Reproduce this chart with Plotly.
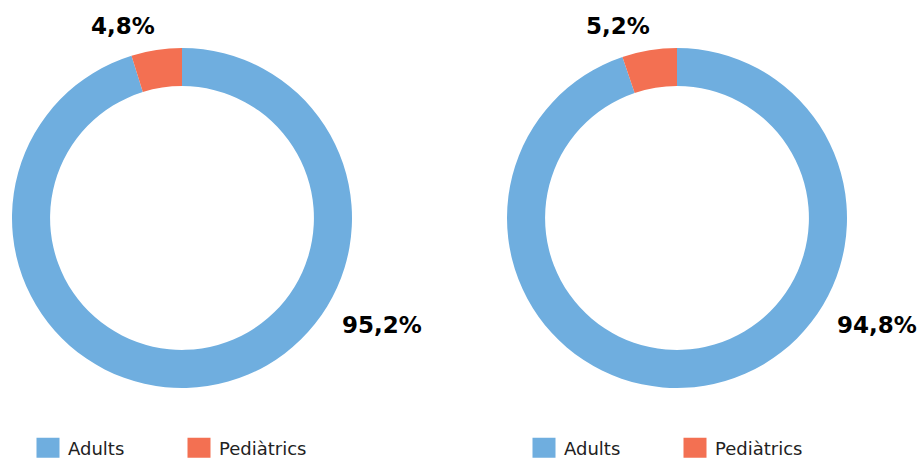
import plotly.graph_objects as go

labels = ["Adults", "Pediàtrics"]
values_left = [95.2, 4.8]
values_right = [94.8, 5.2]
colors = ["#6FAEDF", "#F37052"]

W, H = 919, 459

def fmt(v):
    return f"{v:.1f}".replace(".", ",") + "%"

def px_x(x):
    return x / W

def px_y(y):
    return 1 - y / H

fig = go.Figure()

domains = [
    dict(x=[px_x(12), px_x(352)], y=[px_y(388), px_y(48)]),
    dict(x=[px_x(507), px_x(847)], y=[px_y(388), px_y(48)]),
]

for i, (vals, dom) in enumerate(zip([values_left, values_right], domains)):
    fig.add_trace(go.Pie(
        labels=labels,
        values=vals,
        hole=0.776,
        sort=False,
        direction="clockwise",
        rotation=0,
        marker=dict(colors=colors, line=dict(width=0)),
        textinfo="none",
        hoverinfo="label+percent",
        domain=dom,
        legend="legend" if i == 0 else "legend2",
        legendgroup=f"pie{i}",
        showlegend=True,
    ))

# percentage labels
label_pos = [
    [(382, 324.5), (123, 26.5)],
    [(877, 324.5), (618, 26.5)],
]
for vals, poss in zip([values_left, values_right], label_pos):
    for v, (x, y) in zip(vals, poss):
        fig.add_annotation(
            x=px_x(x), y=px_y(y), xref="paper", yref="paper",
            text=f"<b>{fmt(v)}</b>", showarrow=False,
            xanchor="center", yanchor="middle",
            font=dict(family="DejaVu Sans", size=23, color="#000000"),
        )

legend_common = dict(
    orientation="h",
    xanchor="left",
    yanchor="middle",
    y=px_y(448),
    entrywidth=106,
    entrywidthmode="pixels",
    font=dict(family="DejaVu Sans", size=18, color="#222222"),
    bgcolor="rgba(0,0,0,0)",
    borderwidth=0,
    traceorder="normal",
)

fig.update_layout(
    width=W, height=H,
    margin=dict(l=0, r=0, t=0, b=0, autoexpand=False),
    paper_bgcolor="white",
    plot_bgcolor="white",
    font=dict(family="DejaVu Sans"),
    legend=dict(x=px_x(28), **legend_common),
    legend2=dict(x=px_x(524), **legend_common),
)

post = """
document.body.style.margin = '0';
document.body.style.overflow = 'hidden';
var gd = document.getElementsByClassName('plotly-graph-div')[0];
function bigSwatches() {
  gd.querySelectorAll('.legendpoints path').forEach(function(p) {
    p.setAttribute('d', 'M11.5,10H-11.5V-10H11.5Z');
  });
}
bigSwatches();
gd.on('plotly_afterplot', bigSwatches);
"""

fig.write_html("out.html", post_script=post, config={"displayModeBar": False})
